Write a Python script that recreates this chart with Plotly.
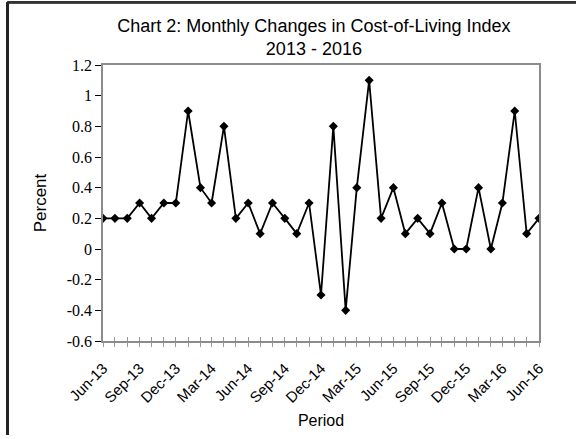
import plotly.graph_objects as go

months = ["2013-06", "2013-07", "2013-08", "2013-09", "2013-10", "2013-11", "2013-12",
          "2014-01", "2014-02", "2014-03", "2014-04", "2014-05", "2014-06", "2014-07",
          "2014-08", "2014-09", "2014-10", "2014-11", "2014-12", "2015-01", "2015-02",
          "2015-03", "2015-04", "2015-05", "2015-06", "2015-07", "2015-08", "2015-09",
          "2015-10", "2015-11", "2015-12", "2016-01", "2016-02", "2016-03", "2016-04",
          "2016-05", "2016-06"]
changes = [0.2, 0.2, 0.2, 0.3, 0.2, 0.3, 0.3,
           0.9, 0.4, 0.3, 0.8, 0.2, 0.3, 0.1,
           0.3, 0.2, 0.1, 0.3, -0.3, 0.8, -0.4,
           0.4, 1.1, 0.2, 0.4, 0.1, 0.2, 0.1,
           0.3, 0.0, 0.0, 0.4, 0.0, 0.3, 0.9,
           0.1, 0.2]
tick_months = ["2013-06", "2013-09", "2013-12", "2014-03", "2014-06", "2014-09", "2014-12",
               "2015-03", "2015-06", "2015-09", "2015-12", "2016-03", "2016-06"]
tick_labels = ["Jun-13", "Sep-13", "Dec-13", "Mar-14", "Jun-14", "Sep-14", "Dec-14",
               "Mar-15", "Jun-15", "Sep-15", "Dec-15", "Mar-16", "Jun-16"]
y_ticks = [-0.6, -0.4, -0.2, 0, 0.2, 0.4, 0.6, 0.8, 1, 1.2]
y_labels = ["-0.6", "-0.4", "-0.2", "0", "0.2", "0.4", "0.6", "0.8", "1", "1.2"]
grid_values = [-0.4, 0, 0.2, 0.4, 0.8, 1.0]

x_dates = [m + "-01" for m in months]
all_ticktext = []
for m in months:
    all_ticktext.append(tick_labels[tick_months.index(m)] if m in tick_months else "")

fig = go.Figure()
fig.add_trace(go.Scatter(
    x=x_dates, y=changes, mode="lines+markers",
    line=dict(color="black", width=1.8),
    marker=dict(symbol="diamond", size=7, color="black"),
    showlegend=False, hoverinfo="x+y"))
# invisible twin so the inner half of the crossing tick marks is drawn
fig.add_trace(go.Scatter(
    x=x_dates, y=changes, mode="lines", line=dict(width=0), opacity=0,
    xaxis="x2", showlegend=False, hoverinfo="skip"))

for g in grid_values:
    fig.add_hline(y=g, line=dict(color="black", width=1), layer="below")

x_range = [x_dates[0], x_dates[-1]]
fig.update_layout(
    width=576, height=439,
    paper_bgcolor="white", plot_bgcolor="white",
    margin=dict(l=103, r=37, t=65, b=95),
    title=dict(text="Chart 2: Monthly Changes in Cost-of-Living Index<br>2013 - 2016",
               x=0.545, xanchor="center", y=0.928, yanchor="top",
               font=dict(family="Liberation Sans, Arial", size=18, color="black")),
    xaxis=dict(type="date", range=x_range, tickmode="array",
               tickvals=x_dates, ticktext=all_ticktext, tickangle=-45,
               ticks="outside", ticklen=4, tickcolor="#999999", tickwidth=1,
               ticklabelstandoff=7,
               showgrid=False, zeroline=False,
               showline=True, linecolor="#8c8c8c", linewidth=1.5, mirror=True,
               tickfont=dict(family="Liberation Sans, Arial", size=15, color="black"),
               title=dict(text="Period", standoff=10,
                          font=dict(family="Liberation Sans, Arial", size=16, color="black"))),
    xaxis2=dict(type="date", range=x_range, overlaying="x", anchor="y",
                tickmode="array", tickvals=x_dates, showticklabels=False,
                ticks="inside", ticklen=4, tickcolor="#999999", tickwidth=1,
                showgrid=False, zeroline=False, showline=False, side="bottom"),
    yaxis=dict(range=[-0.6, 1.2], tickmode="array", tickvals=y_ticks, ticktext=y_labels,
               ticks="outside", ticklen=6, tickcolor="black", tickwidth=1,
               showgrid=False, zeroline=False,
               showline=True, linecolor="#8c8c8c", linewidth=1.5, mirror=True,
               tickfont=dict(family="Liberation Serif, Times New Roman", size=16, color="black"),
               title=dict(text="Percent", standoff=16,
                          font=dict(family="Liberation Sans, Arial", size=17, color="black"))),
    shapes=[
        dict(type="line", xref="paper", yref="paper", x0=-0.219, x1=1.085, y0=1.2276, y1=1.2276,
             line=dict(color="#333333", width=2.5)),
        dict(type="line", xref="paper", yref="paper", x0=-0.219, x1=-0.219, y0=1.2276, y1=-0.341,
             line=dict(color="#222222", width=2.5)),
    ],
)

fig.write_html("out.html", config={"displayModeBar": False},
               post_script="document.body.style.margin='0';")
